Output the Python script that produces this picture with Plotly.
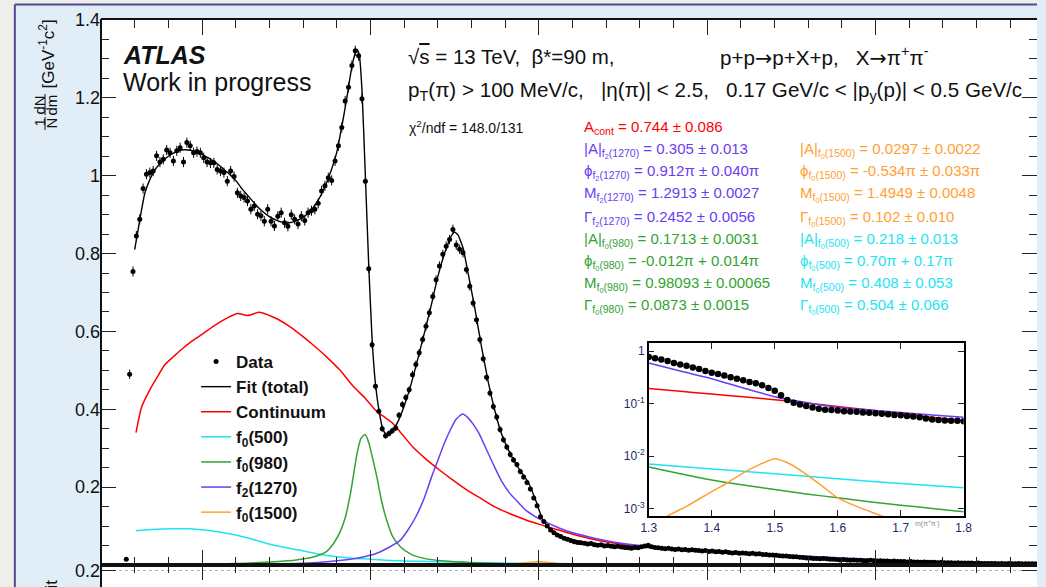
import plotly.graph_objects as go

# ---------------- canvas geometry (pixels) ----------------
W, H = 1046, 587
PL, PT = 101, 20            # plot-area origin
PW, PH = W - PL, H - PT     # plot-area size


def fx(px):
    return (px - PL) / PW


def fy(py):
    return (H - py) / PH


FONT = "Liberation Sans, Arial, Helvetica, sans-serif"

C_RED = "#ff0000"
C_CYAN = "#1fe3f2"
C_GREEN = "#33a333"
C_VIOLET = "#6b3cf2"
C_ORANGE = "#ffa033"

# ---------------- measured spectrum: 10 MeV bins from 0.27 GeV ----------------
data_v = [
    0.015, 0.490, 0.754, 0.845, 0.888, 0.967, 1.004, 1.008, 1.012, 1.051,
    1.035, 1.042, 1.066, 1.059, 1.038, 1.064, 1.072, 1.035, 1.085, 1.077,
    1.059, 1.062, 1.059, 1.046, 1.035, 1.033, 1.033, 1.016, 1.012, 1.008,
    0.986, 1.012, 0.998, 0.956, 0.948, 0.944, 0.935, 0.914, 0.922, 0.901,
    0.897, 0.883, 0.914, 0.883, 0.871, 0.896, 0.905, 0.879, 0.870, 0.900,
    0.888, 0.876, 0.896, 0.885, 0.905, 0.910, 0.914, 0.929, 0.961, 0.974,
    0.995, 0.988, 1.038, 1.077, 1.124, 1.192, 1.227, 1.283, 1.321, 1.308,
    1.198, 0.986, 0.761, 0.566, 0.459, 0.395, 0.350, 0.332, 0.338, 0.345,
    0.352, 0.385, 0.412, 0.430, 0.450, 0.489, 0.515, 0.545, 0.579, 0.613,
    0.648, 0.690, 0.733, 0.768, 0.798, 0.819, 0.836, 0.862, 0.822, 0.811,
    0.802, 0.759, 0.716, 0.673, 0.630, 0.579, 0.530, 0.482, 0.442, 0.407,
    0.380, 0.348, 0.322, 0.303, 0.284, 0.270, 0.258, 0.240, 0.226, 0.212,
    0.195, 0.172, 0.152, 0.124, 0.112, 0.100, 0.090, 0.083, 0.077, 0.073,
    0.069, 0.066, 0.063, 0.060, 0.058, 0.057, 0.056, 0.054, 0.055, 0.052,
    0.051, 0.052, 0.049, 0.050, 0.048, 0.047, 0.048, 0.046, 0.045, 0.044,
    0.043, 0.045, 0.044, 0.047, 0.049, 0.051, 0.047, 0.045, 0.044, 0.043,
    0.042, 0.043, 0.041, 0.040, 0.041, 0.039, 0.040, 0.038, 0.039, 0.038,
    0.037, 0.036, 0.037, 0.035, 0.036, 0.034, 0.035, 0.033, 0.034, 0.032,
    0.031, 0.032, 0.030, 0.031, 0.030, 0.029, 0.030, 0.028, 0.029, 0.027,
    0.027, 0.026, 0.026, 0.025, 0.024, 0.023, 0.023, 0.022, 0.021, 0.021,
    0.020, 0.019, 0.018, 0.018, 0.017, 0.017, 0.016, 0.017, 0.016, 0.015,
    0.015, 0.014, 0.013, 0.014, 0.013, 0.012, 0.013, 0.012, 0.012, 0.011,
    0.011, 0.012, 0.011, 0.010, 0.011, 0.010, 0.010, 0.009, 0.010, 0.009,
    0.009, 0.009, 0.008, 0.009, 0.008, 0.008, 0.007, 0.008, 0.007, 0.007,
    0.007, 0.006, 0.007, 0.006, 0.006, 0.006, 0.005, 0.006, 0.005, 0.005,
    0.005, 0.005, 0.004, 0.005, 0.004, 0.004, 0.004, 0.004, 0.004, 0.003,
    0.004, 0.003, 0.004, 0.003, 0.003, 0.004, 0.003, 0.003, 0.003, 0.003,
    0.003, 0.003, 0.002,
]
data_err = [
    0.003, 0.012, 0.013, 0.013, 0.013, 0.013, 0.013, 0.013, 0.013, 0.013,
    0.013, 0.013, 0.013, 0.013, 0.013, 0.013, 0.013, 0.013, 0.013, 0.013,
    0.013, 0.013, 0.013, 0.013, 0.013, 0.013, 0.013, 0.013, 0.013, 0.013,
    0.013, 0.013, 0.013, 0.013, 0.013, 0.013, 0.013, 0.013, 0.013, 0.013,
    0.013, 0.013, 0.013, 0.013, 0.013, 0.013, 0.013, 0.013, 0.013, 0.013,
    0.013, 0.013, 0.013, 0.013, 0.013, 0.013, 0.013, 0.013, 0.013, 0.013,
    0.013, 0.013, 0.013, 0.013, 0.013, 0.013, 0.013, 0.013, 0.013, 0.013,
    0.013, 0.012, 0.011, 0.010, 0.009, 0.008, 0.008, 0.008, 0.008, 0.008,
    0.008, 0.008, 0.009, 0.009, 0.009, 0.010, 0.010, 0.010, 0.010, 0.011,
    0.011, 0.011, 0.011, 0.012, 0.012, 0.012, 0.012, 0.012, 0.012, 0.012,
    0.012, 0.011, 0.011, 0.011, 0.011, 0.010, 0.010, 0.010, 0.009, 0.009,
    0.009, 0.008, 0.008, 0.008, 0.008, 0.007, 0.007, 0.007, 0.007, 0.007,
    0.006, 0.006, 0.006, 0.005, 0.005, 0.005, 0.005, 0.005, 0.004, 0.004,
    0.004, 0.004, 0.004, 0.004, 0.004, 0.004, 0.004, 0.004, 0.004, 0.004,
    0.004, 0.004, 0.004, 0.004, 0.004, 0.004, 0.004, 0.004, 0.004, 0.004,
    0.004, 0.004, 0.004, 0.004, 0.004, 0.004, 0.004, 0.004, 0.004, 0.004,
    0.004, 0.004, 0.004, 0.004, 0.004, 0.004, 0.004, 0.004, 0.004, 0.004,
    0.003, 0.003, 0.003, 0.003, 0.003, 0.003, 0.003, 0.003, 0.003, 0.003,
    0.003, 0.003, 0.003, 0.003, 0.003, 0.003, 0.003, 0.003, 0.003, 0.003,
    0.003, 0.003, 0.003, 0.003, 0.003, 0.003, 0.003, 0.003, 0.003, 0.003,
    0.003, 0.003, 0.003, 0.003, 0.003, 0.003, 0.003, 0.003, 0.003, 0.003,
    0.003, 0.003, 0.003, 0.003, 0.003, 0.003, 0.003, 0.003, 0.003, 0.003,
    0.002, 0.002, 0.002, 0.002, 0.002, 0.002, 0.002, 0.002, 0.002, 0.002,
    0.002, 0.002, 0.002, 0.002, 0.002, 0.002, 0.002, 0.002, 0.002, 0.002,
    0.002, 0.002, 0.002, 0.002, 0.002, 0.002, 0.002, 0.002, 0.002, 0.002,
    0.002, 0.002, 0.002, 0.002, 0.002, 0.002, 0.002, 0.002, 0.002, 0.002,
    0.002, 0.002, 0.002, 0.002, 0.002, 0.002, 0.002, 0.002, 0.002, 0.002,
    0.002, 0.002, 0.002,
]
BIN_HALF = 0.005
data_m = [round(0.275 + 0.01 * i, 3) for i in range(len(data_v))]

# ---------------- fitted model: total and components ----------------
fit_m = [0.30, 0.31, 0.32, 0.33, 0.345, 0.36, 0.38, 0.40, 0.42, 0.44, 0.46, 0.48,
         0.50, 0.52, 0.54, 0.56, 0.58, 0.60, 0.62, 0.64, 0.66, 0.68, 0.70, 0.72,
         0.74, 0.76, 0.78, 0.80, 0.82, 0.84, 0.86, 0.88, 0.90, 0.92, 0.93, 0.94,
         0.95, 0.96, 0.967, 0.975, 0.985, 0.995, 1.005, 1.015, 1.025, 1.035,
         1.045, 1.055, 1.065, 1.08, 1.10, 1.12, 1.14, 1.16, 1.18, 1.20, 1.22,
         1.24, 1.25, 1.26, 1.275, 1.29, 1.31, 1.33, 1.35, 1.37, 1.39, 1.41,
         1.43, 1.45, 1.47, 1.49, 1.51, 1.53, 1.55, 1.58, 1.62, 1.70, 1.80,
         1.90, 2.00, 2.10, 2.20, 2.30, 2.40, 2.50, 2.60, 2.70, 2.80, 2.90, 2.98]
fit_v = [0.810, 0.860, 0.910, 0.955, 0.990, 1.015, 1.035, 1.050, 1.060, 1.066,
         1.066, 1.062, 1.055, 1.045, 1.034, 1.020, 1.005, 0.988, 0.965, 0.945,
         0.925, 0.908, 0.895, 0.886, 0.880, 0.879, 0.884, 0.893, 0.908, 0.930,
         0.962, 1.005, 1.060, 1.150, 1.200, 1.255, 1.300, 1.325, 1.310, 1.220,
         1.000, 0.770, 0.580, 0.465, 0.400, 0.355, 0.336, 0.335, 0.342, 0.365,
         0.408, 0.462, 0.527, 0.595, 0.665, 0.740, 0.800, 0.845, 0.855, 0.848,
         0.815, 0.750, 0.660, 0.560, 0.470, 0.395, 0.335, 0.295, 0.262, 0.236,
         0.210, 0.168, 0.120, 0.095, 0.082, 0.070, 0.061, 0.052, 0.046, 0.041,
         0.036, 0.031, 0.026, 0.019, 0.015, 0.012, 0.009, 0.007, 0.005, 0.004,
         0.003]

cont_m = [0.304, 0.321, 0.345, 0.37, 0.39, 0.415, 0.438, 0.47, 0.507, 0.54,
          0.575, 0.606, 0.635, 0.67, 0.70, 0.728, 0.765, 0.798, 0.83, 0.868,
          0.91, 0.949, 0.985, 1.018, 1.045, 1.065, 1.095, 1.124, 1.165, 1.205,
          1.245, 1.286, 1.33, 1.368, 1.40, 1.437, 1.47, 1.507, 1.55, 1.589,
          1.65, 1.716, 1.80, 1.90, 2.00, 2.20, 2.40, 2.60, 2.80, 2.98]
cont_v = [0.340, 0.407, 0.450, 0.487, 0.515, 0.535, 0.553, 0.575, 0.597, 0.617,
          0.635, 0.646, 0.641, 0.649, 0.641, 0.630, 0.610, 0.588, 0.565, 0.536,
          0.500, 0.459, 0.428, 0.395, 0.378, 0.365, 0.335, 0.305, 0.272, 0.244,
          0.218, 0.193, 0.170, 0.150, 0.137, 0.124, 0.113, 0.103, 0.092, 0.082,
          0.068, 0.057, 0.048, 0.042, 0.036, 0.026, 0.017, 0.010, 0.006, 0.004]

f500_m = [0.304, 0.35, 0.418, 0.46, 0.507, 0.55, 0.60, 0.65, 0.69, 0.74, 0.784,
          0.84, 0.90, 0.95, 1.00, 1.08, 1.18, 1.30, 1.41, 1.50, 1.60, 1.80,
          2.00, 2.50, 2.98]
f500_v = [0.088, 0.091, 0.093, 0.093, 0.090, 0.085, 0.077, 0.066, 0.056, 0.046,
          0.039, 0.029, 0.021, 0.017, 0.015, 0.011, 0.009, 0.0065, 0.0048,
          0.0042, 0.0035, 0.0025, 0.0020, 0.0012, 0.0008]

f980_m = [0.30, 0.50, 0.60, 0.717, 0.78, 0.833, 0.87, 0.891, 0.91, 0.926, 0.94,
          0.949, 0.96, 0.972, 0.984, 0.995, 1.007, 1.019, 1.033, 1.048, 1.065,
          1.089, 1.12, 1.159, 1.22, 1.30, 1.40, 1.50, 1.60, 1.80, 2.00, 2.50, 2.98]
f980_v = [0.001, 0.003, 0.004, 0.0085, 0.013, 0.021, 0.035, 0.056, 0.085, 0.124,
          0.180, 0.227, 0.285, 0.325, 0.335, 0.315, 0.272, 0.227, 0.165, 0.116,
          0.075, 0.047, 0.028, 0.017, 0.010, 0.006, 0.0035, 0.0023, 0.0016,
          0.0009, 0.0006, 0.0003, 0.0002]

f1270_m = [0.30, 0.60, 0.72, 0.833, 0.90, 0.949, 0.985, 1.019, 1.05, 1.089, 1.11,
           1.135, 1.16, 1.182, 1.20, 1.216, 1.235, 1.255, 1.274, 1.29, 1.305,
           1.322, 1.345, 1.368, 1.39, 1.414, 1.44, 1.461, 1.485, 1.507, 1.55,
           1.589, 1.65, 1.716, 1.80, 1.90, 2.00, 2.20, 2.40, 2.60, 2.80, 2.98]
f1270_v = [0.0005, 0.0015, 0.003, 0.006, 0.011, 0.016, 0.022, 0.030, 0.043, 0.064,
           0.088, 0.124, 0.172, 0.227, 0.268, 0.305, 0.343, 0.375, 0.388, 0.378,
           0.362, 0.339, 0.296, 0.253, 0.215, 0.184, 0.160, 0.141, 0.127, 0.116,
           0.099, 0.086, 0.072, 0.060, 0.050, 0.043, 0.037, 0.027, 0.018, 0.011,
           0.007, 0.005]

f1500_m = [1.20, 1.30, 1.36, 1.40, 1.425, 1.45, 1.475, 1.50, 1.525, 1.55, 1.575,
           1.60, 1.63, 1.67, 1.80, 2.00]
f1500_v = [0.0002, 0.0005, 0.0011, 0.0021, 0.0031, 0.0048, 0.0068, 0.0089, 0.0070,
           0.0045, 0.0027, 0.0016, 0.0011, 0.0007, 0.0002, 0.0001]

# ---------------- inset (log scale, 1.3-1.8 GeV) ----------------
inset_m = [round(1.30 + 0.01 * i, 2) for i in range(51)]
inset_v = [0.78, 0.74, 0.70, 0.65, 0.60, 0.56, 0.53, 0.49, 0.46, 0.42,
           0.39, 0.37, 0.345, 0.32, 0.30, 0.28, 0.26, 0.245, 0.225, 0.20,
           0.176, 0.145, 0.118, 0.104, 0.096, 0.090, 0.085, 0.080, 0.077, 0.076,
           0.074, 0.072, 0.071, 0.070, 0.068, 0.067, 0.066, 0.064, 0.063, 0.061,
           0.060, 0.058, 0.057, 0.055, 0.052, 0.050, 0.049, 0.048, 0.047, 0.047,
           0.046]
ins_f2_m = [1.30, 1.35, 1.40, 1.45, 1.50, 1.55, 1.60, 1.65, 1.70, 1.75, 1.80]
ins_f2_v = [0.60, 0.42, 0.30, 0.20, 0.136, 0.105, 0.085, 0.076, 0.068, 0.061, 0.055]
ins_cont_m = [1.30, 1.35, 1.40, 1.45, 1.50, 1.55, 1.60, 1.65, 1.70, 1.75, 1.80]
ins_cont_v = [0.195, 0.172, 0.153, 0.135, 0.119, 0.103, 0.088, 0.076, 0.065, 0.055, 0.047]
ins_f500_m = [1.30, 1.40, 1.50, 1.60, 1.70, 1.80]
ins_f500_v = [0.0071, 0.0057, 0.0046, 0.0037, 0.0030, 0.0025]
ins_f980_m = [1.30, 1.35, 1.40, 1.45, 1.50, 1.55, 1.60, 1.65, 1.70, 1.75, 1.80]
ins_f980_v = [0.0062, 0.0046, 0.0035, 0.0028, 0.0023, 0.0019, 0.0016, 0.00135,
              0.00116, 0.0010, 0.00087]
ins_f1500_m = [1.30, 1.33, 1.36, 1.40, 1.425, 1.45, 1.475, 1.50, 1.525, 1.55,
               1.575, 1.60, 1.63, 1.67, 1.70]
ins_f1500_v = [0.0004, 0.00072, 0.0011, 0.0021, 0.0031, 0.0048, 0.0068, 0.0089,
               0.0070, 0.0045, 0.0027, 0.0016, 0.0011, 0.00072, 0.0005]

fig = go.Figure()

# model components (main panel)
components = [
    ("Continuum", cont_m, cont_v, C_RED, 3),
    ("f<sub>0</sub>(500)", f500_m, f500_v, C_CYAN, 4),
    ("f<sub>0</sub>(980)", f980_m, f980_v, C_GREEN, 5),
    ("f<sub>2</sub>(1270)", f1270_m, f1270_v, C_VIOLET, 6),
    ("f<sub>0</sub>(1500)", f1500_m, f1500_v, C_ORANGE, 7),
]
for name, xs, ys, col, rank in components:
    fig.add_trace(go.Scatter(
        x=xs, y=ys, mode="lines", name=name, legendrank=rank,
        line=dict(color=col, width=1.5, shape="spline", smoothing=0.6),
        xaxis="x", yaxis="y"))

fig.add_trace(go.Scatter(
    x=fit_m, y=fit_v, mode="lines", name="Fit (total)", legendrank=2,
    line=dict(color="black", width=1.4, shape="spline", smoothing=0.4),
    xaxis="x", yaxis="y"))

fig.add_trace(go.Scatter(
    x=data_m, y=data_v, mode="markers", name="Data", legendrank=1,
    marker=dict(color="black", size=5),
    error_y=dict(type="data", array=data_err, color="black", thickness=1, width=0),
    error_x=dict(type="constant", value=BIN_HALF, color="black", thickness=1, width=0),
    xaxis="x", yaxis="y"))

# lower data/fit panel (its contents lie below the visible strip)
fig.add_trace(go.Scatter(x=[], y=[], mode="markers", showlegend=False,
                         xaxis="x2", yaxis="y2"))

# inset traces
for xs, ys, col in [(ins_cont_m, ins_cont_v, C_RED), (ins_f2_m, ins_f2_v, C_VIOLET),
                    (ins_f500_m, ins_f500_v, C_CYAN), (ins_f980_m, ins_f980_v, C_GREEN),
                    (ins_f1500_m, ins_f1500_v, C_ORANGE)]:
    fig.add_trace(go.Scatter(
        x=xs, y=ys, mode="lines", showlegend=False,
        line=dict(color=col, width=1.5, shape="spline", smoothing=0.6),
        xaxis="x3", yaxis="y3"))
fig.add_trace(go.Scatter(
    x=inset_m, y=inset_v, mode="markers", showlegend=False,
    marker=dict(color="black", size=6.5), xaxis="x3", yaxis="y3"))

# ---------------- axes ----------------
x_lo, x_hi = 0.2, 0.2 + PW / 340.0
main_bottom = fy(565)

tick_common = dict(ticks="inside", tickcolor="#222", tickwidth=1.2)

fig.update_layout(
    xaxis=dict(domain=[0, 1], range=[x_lo, x_hi], anchor="y",
               tick0=0.5, dtick=0.5, ticklen=15, showticklabels=False,
               minor=dict(dtick=0.1, tick0=0.0, ticklen=8, ticks="inside",
                          tickcolor="#222", tickwidth=1),
               showline=True, linecolor="#111", linewidth=2, mirror="ticks",
               showgrid=False, zeroline=False, **tick_common),
    yaxis=dict(domain=[main_bottom, 1], range=[0, 1.4], anchor="x",
               tickvals=[0, 0.2, 0.4, 0.6, 0.8, 1.0, 1.2, 1.4],
               ticktext=["", "0.2", "0.4", "0.6", "0.8", "1", "1.2", "1.4"],
               ticklen=15,
               minor=dict(dtick=0.05, tick0=0.0, ticklen=8, ticks="inside",
                          tickcolor="#222", tickwidth=1),
               showline=False, mirror="ticks", showgrid=False, zeroline=False,
               tickfont=dict(family=FONT, size=18, color="#111"), **tick_common),
    # lower (data/fit) panel, only its top strip is in view
    xaxis2=dict(domain=[0, 1], range=[x_lo, x_hi], anchor="y2", side="top",
                tick0=0.5, dtick=0.5, ticklen=15, showticklabels=False,
                minor=dict(dtick=0.1, tick0=0.0, ticklen=8, ticks="inside",
                           tickcolor="#222", tickwidth=1),
                showline=True, linecolor="#111", linewidth=2,
                showgrid=False, zeroline=False, **tick_common),
    yaxis2=dict(domain=[0, main_bottom], range=[0.02, 0.26], anchor="x2",
                tickvals=[0.2], ticktext=["0.2"], ticklen=15, mirror="ticks",
                showline=False, showgrid=True, gridcolor="#b0b0b0",
                griddash="dot", gridwidth=1, zeroline=False,
                tickfont=dict(family=FONT, size=18, color="#111"), **tick_common),
    # inset
    xaxis3=dict(domain=[fx(654), fx(972)], range=[1.3, 1.8], anchor="y3",
                tickvals=[1.3, 1.4, 1.5, 1.6, 1.7, 1.8], ticklen=6,
                showline=True, linecolor="black", linewidth=1.5, mirror="ticks",
                showgrid=False, zeroline=False,
                tickfont=dict(family=FONT, size=12, color="#1c2a6a"), **tick_common),
    yaxis3=dict(domain=[fy(516), fy(343)], type="log", range=[-3.143, 0.158],
                anchor="x3", tickvals=[1, 0.1, 0.01, 0.001],
                ticktext=["1", "10<sup>-1</sup>", "10<sup>-2</sup>", "10<sup>-3</sup>"],
                ticklen=6, showline=True, linecolor="black", linewidth=1.5,
                mirror="ticks", showgrid=False, zeroline=False,
                tickfont=dict(family=FONT, size=12, color="#1c2a6a"), **tick_common),
)

# ---------------- text ----------------
NB = "\u00a0"
ARROW = "<span style='font-family:DejaVu Sans'>→</span>"
ann = []


def label(px, py, text, size, color="#111", xanchor="left", angle=0, **kw):
    ann.append(dict(x=fx(px), y=fy(py), xref="paper", yref="paper", text=text,
                    showarrow=False, xanchor=xanchor, yanchor="middle",
                    textangle=angle,
                    font=dict(family=FONT, size=size, color=color), **kw))


label(121, 55, "<b><i>ATLAS</i></b>", 25)
label(121, 82, "Work in progress", 25)

label(409, 56, "√<span style='text-decoration:overline'>s</span> = 13 TeV," + NB * 2
      + "β*=90 m,", 20.5)
label(724, 56, "p+p" + ARROW + "p+X+p," + NB * 3 + "X" + ARROW
      + "π<sup>+</sup>π<sup>-</sup>", 20.6)
label(409, 91, "p<sub>T</sub>(π) &gt; 100 MeV/c," + NB * 3 + "|η(π)| &lt; 2.5,"
      + NB * 3 + "0.17 GeV/c &lt; |p<sub>y</sub>(p)| &lt; 0.5 GeV/c", 20.6)
label(410, 127, "χ<sup>2</sup>/ndf = 148.0/131", 14)


def sub(sym, res):
    return f"{sym}<sub>{res}</sub>"


f2 = "f<sub>2</sub>(1270)"
f0a = "f<sub>0</sub>(980)"
f0b = "f<sub>0</sub>(1500)"
f0c = "f<sub>0</sub>(500)"
rows_y = [148.7, 170.5, 192, 216, 238, 260.5, 282, 304]
col1 = [
    (sub("|A|", f2) + " = 0.305 ± 0.013", C_VIOLET),
    (sub("ϕ", f2) + " = 0.912π ± 0.040π", C_VIOLET),
    (sub("M", f2) + " = 1.2913 ± 0.0027", C_VIOLET),
    (sub("Γ", f2) + " = 0.2452 ± 0.0056", C_VIOLET),
    (sub("|A|", f0a) + " = 0.1713 ± 0.0031", C_GREEN),
    (sub("ϕ", f0a) + " = -0.012π + 0.014π", C_GREEN),
    (sub("M", f0a) + " = 0.98093 ± 0.00065", C_GREEN),
    (sub("Γ", f0a) + " = 0.0873 ± 0.0015", C_GREEN),
]
col2 = [
    (sub("|A|", f0b) + " = 0.0297 ± 0.0022", C_ORANGE),
    (sub("ϕ", f0b) + " = -0.534π ± 0.033π", C_ORANGE),
    (sub("M", f0b) + " = 1.4949 ± 0.0048", C_ORANGE),
    (sub("Γ", f0b) + " = 0.102 ± 0.010", C_ORANGE),
    (sub("|A|", f0c) + " = 0.218 ± 0.013", C_CYAN),
    (sub("ϕ", f0c) + " = 0.70π + 0.17π", C_CYAN),
    (sub("M", f0c) + " = 0.408 ± 0.053", C_CYAN),
    (sub("Γ", f0c) + " = 0.504 ± 0.066", C_CYAN),
]
label(587, 127, "A<sub>cont</sub> = 0.744 ± 0.086", 15, C_RED)
for yy, (t, c) in zip(rows_y, col1):
    label(587, yy + 2, t, 15, c)
for yy, (t, c) in zip(rows_y, col2):
    label(805, yy + 2, t, 15, c)

# inset axis title
label(935, 523, "m(π<sup>+</sup>π<sup>-</sup>)", 7, "#8a8aa0", xanchor="center")

# y-axis title: 1/N dN/dm [GeV^-1 c^2]
label(46, 54, "[GeV<sup>-1</sup>c<sup>2</sup>]", 17, angle=-90, xanchor="center")
label(38, 123, "1", 15, angle=-90, xanchor="center")
label(51, 123, "N", 15, angle=-90, xanchor="center")
label(38, 105, "dN", 15, angle=-90, xanchor="center")
label(51, 105, "dm", 15, angle=-90, xanchor="center")
# lower panel axis title (only its end is in view)
ann.append(dict(x=fx(51), y=fy(578), xref="paper", yref="paper",
                text="Data / Fit", showarrow=False, textangle=-90,
                xanchor="center", yanchor="top",
                font=dict(family=FONT, size=17, color="#111")))

fig.update_layout(annotations=ann)

# ---------------- frame & page decoration ----------------
shapes = [
    dict(type="rect", xref="paper", yref="paper", x0=fx(0), x1=fx(13), y0=fy(H),
         y1=fy(0), fillcolor="#efefea", line_width=0, layer="below"),
    dict(type="rect", xref="paper", yref="paper", x0=fx(0), x1=fx(W), y0=fy(4),
         y1=fy(0), fillcolor="#efefea", line_width=0, layer="below"),
    dict(type="line", xref="paper", yref="paper", x0=fx(14), x1=fx(14), y0=fy(H),
         y1=fy(4.5), line=dict(color="#4f4a8e", width=2), layer="below"),
    dict(type="line", xref="paper", yref="paper", x0=fx(14), x1=fx(W), y0=fy(4.5),
         y1=fy(4.5), line=dict(color="#4f4a8e", width=2), layer="below"),
    dict(type="line", xref="paper", yref="paper", x0=fx(101), x1=fx(101), y0=fy(H),
         y1=fy(19), line=dict(color="#111", width=2), layer="above"),
    # fraction bars of the y-axis title
    dict(type="line", xref="paper", yref="paper", x0=fx(44.5), x1=fx(44.5),
         y0=fy(130), y1=fy(117), line=dict(color="#111", width=1), layer="above"),
    dict(type="line", xref="paper", yref="paper", x0=fx(44.5), x1=fx(44.5),
         y0=fy(115), y1=fy(94), line=dict(color="#111", width=1), layer="above"),
]
fig.update_layout(shapes=shapes)

fig.update_layout(
    width=W, height=H,
    margin=dict(l=PL, r=0, t=PT, b=0, pad=0),
    paper_bgcolor="#e2eef7", plot_bgcolor="white",
    font=dict(family=FONT, color="#111"),
    legend=dict(x=fx(197), y=fy(344), xanchor="left", yanchor="top",
                bgcolor="rgba(0,0,0,0)", borderwidth=0,
                font=dict(family=FONT, size=17, color="#111", weight="bold"),
                itemwidth=30, tracegroupgap=0),
    showlegend=True,
)

fig.write_html("out.html")
